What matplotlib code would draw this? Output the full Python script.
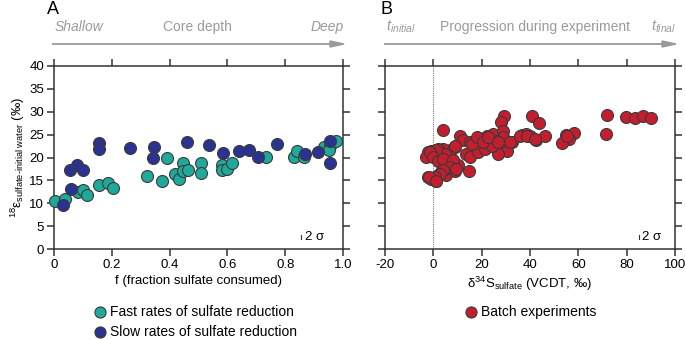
import matplotlib.pyplot as plt
import numpy as np

plt.rcParams['font.family'] = ['Liberation Sans', 'DejaVu Sans']
plt.rcParams['mathtext.fontset'] = 'custom'
plt.rcParams['mathtext.rm'] = 'Liberation Sans'
plt.rcParams['mathtext.it'] = 'Liberation Sans:italic'
plt.rcParams['font.size'] = 9
plt.rcParams['axes.unicode_minus'] = False

# panel A: fraction sulfate consumed vs 18-epsilon
fast_f = [0.003, 0.038, 0.082, 0.10, 0.113, 0.157, 0.186, 0.204, 0.321, 0.374,
          0.391, 0.419, 0.434, 0.445, 0.448, 0.465, 0.509, 0.509, 0.581, 0.581,
          0.598, 0.615, 0.734, 0.829, 0.841, 0.864, 0.933, 0.956, 0.950, 0.977]
fast_eps = [10.5, 11.0, 12.4, 13.0, 11.8, 13.9, 14.4, 13.3, 16.0, 14.8,
            19.9, 16.4, 15.2, 18.8, 17.0, 17.3, 18.7, 16.6, 18.3, 17.3,
            17.5, 18.8, 20.1, 20.1, 21.4, 20.2, 22.4, 22.6, 21.7, 23.6]

slow_f = [0.032, 0.058, 0.055, 0.079, 0.10, 0.154, 0.157, 0.264, 0.345, 0.341,
          0.461, 0.537, 0.585, 0.640, 0.675, 0.705, 0.771, 0.870, 0.915, 0.954,
          0.956]
slow_eps = [9.7, 13.2, 17.2, 18.3, 17.3, 23.1, 21.8, 22.0, 22.2, 19.9,
            23.3, 22.8, 21.0, 21.4, 21.7, 20.1, 23.0, 20.7, 21.1, 23.6,
            18.9]

# panel B: batch experiments
batch_d34s = [29.2, 28.2, 41.0, 43.7, 72.0, 79.6, 83.3, 86.6, 90.2, 3.9,
              71.4, 10.9, 12.3, 18.5, 22.4, 24.8, 28.7, 29.0, 36.8, 38.2,
              40.0, 42.4, 46.2, 54.8, 58.4, 56.0, 53.1, 15.1, 17.2, 20.3,
              22.3, 26.2, 27.3, 32.4, 30.3, 26.9, 8.9, 6.8, 4.0, 1.9,
              -0.8, -2.2, -2.9, 0.6, 2.4, 4.7, 6.1, 8.2, 6.8, 4.7,
              13.4, 15.1, 18.5, 21.3, 24.1, -2.2, -1.1, 1.2, 1.9, 3.3,
              5.4, 7.2, 8.9, 9.6, 14.8, 10.2, 5.7, 8.8, 1.2, -1.5,
              -0.2, 1.9, 4.0, 8.1, 6.8, 4.0, 2.6, 0.5, -1.8, 1.2,
              9.5, 15.8, 17.9, 20.6, 22.7, 26.8, 31.7, 35.8, 38.6, 42.1,
              55.2]
batch_eps = [29.0, 27.8, 29.0, 27.6, 29.3, 28.8, 28.6, 29.1, 28.6, 26.1,
             25.1, 24.8, 23.8, 24.3, 24.6, 25.1, 25.7, 24.4, 24.9, 25.1,
             24.6, 23.9, 24.6, 24.9, 25.3, 24.1, 23.1, 23.3, 22.4, 22.6,
             23.2, 23.7, 23.0, 23.3, 21.5, 20.8, 22.4, 21.7, 21.9, 21.9,
             21.5, 21.2, 20.2, 20.1, 19.7, 19.3, 19.0, 19.0, 20.4, 20.8,
             20.7, 20.1, 21.2, 21.9, 22.6, 15.7, 15.4, 14.9, 16.1, 16.8,
             16.1, 17.7, 17.0, 17.9, 17.0, 18.3, 18.3, 22.6, 21.7, 21.2,
             20.1, 19.3, 19.7, 19.5, 17.9, 17.2, 16.5, 15.7, 15.7, 14.8,
             17.5, 23.0, 24.4, 23.3, 24.4, 23.3, 23.3, 24.8, 24.8, 24.1,
             24.8]

teal = '#1fa99b'
navy = '#2a3292'
red = '#c41e2e'
edge = '#3a3a3a'
axcol = '#333333'
gray = '#9a9a9a'

fig = plt.figure(figsize=(6.85, 3.39), dpi=100)
axA = fig.add_axes([54/685, 1-249/339, 289/685, 183/339])
axB = fig.add_axes([385/685, 1-249/339, 290/685, 183/339])


def style(ax):
    for s in ax.spines.values():
        s.set_color(axcol)
        s.set_linewidth(1.1)
    ax.tick_params(direction='out', length=5, width=1.1, color=axcol,
                   top=True, right=True, labelsize=9.5, pad=2)
    ax.set_ylim(0, 40)
    ax.set_yticks(np.arange(0, 41, 5))


style(axA)
axA.scatter(fast_f, fast_eps, s=74, c=teal, edgecolors=edge, linewidths=0.8,
            zorder=3, clip_on=False)
axA.scatter(slow_f, slow_eps, s=74, c=navy, edgecolors=edge, linewidths=0.8,
            zorder=3, clip_on=False)
axA.set_xlim(0, 1.0)
axA.set_xticks([0, 0.2, 0.4, 0.6, 0.8, 1.0])
axA.set_xticklabels(['0', '0.2', '0.4', '0.6', '0.8', '1.0'])
axA.set_xlabel('f (fraction sulfate consumed)', labelpad=3, fontsize=9.5)
axA.set_ylabel(r'$^{18}$ε$_{\mathrm{sulfate\text{-}initial\ water}}$ (‰)', labelpad=2, fontsize=9.5)
axA.plot([0.855, 0.855], [2.1, 3.1], color=axcol, lw=0.8)
axA.text(0.868, 2.6, '2 σ', va='center', ha='left', fontsize=9.5)

style(axB)
axB.axvline(0, color='#777777', lw=0.8, ls=(0, (1, 1)), zorder=1)
axB.scatter(batch_d34s, batch_eps, s=74, c=red, edgecolors=edge, linewidths=0.8, zorder=3)
axB.set_xlim(-20, 100)
axB.set_xticks(np.arange(-20, 101, 20))
axB.set_yticklabels([])
axB.set_xlabel(r'δ$^{34}$S$_{\mathrm{sulfate}}$ (VCDT, ‰)', labelpad=3, fontsize=9.5)
axB.plot([85, 85], [2.1, 3.1], color=axcol, lw=0.8)
axB.text(86.5, 2.6, '2 σ', va='center', ha='left', fontsize=9.5)

# panel letters
fig.text(47/685, 1-9/339, 'A', fontsize=13, va='center', ha='left')
fig.text(380/685, 1-9/339, 'B', fontsize=13, va='center', ha='left')

# header arrows
ya = 1-44/339
for x0, x1 in [(53, 344), (385, 676)]:
    fig.add_artist(plt.Line2D([x0/685, (x1-10)/685], [ya, ya], color=gray, lw=1.3))
    fig.patches.append(plt.Polygon([[(x1-14)/685, ya+3/339], [x1/685, ya],
                                    [(x1-14)/685, ya-3/339]], closed=True,
                                   color=gray, transform=fig.transFigure, figure=fig))

yt = 1-27/339
fig.text(55/685, yt, 'Shallow', style='italic', color=gray, fontsize=10, va='center', ha='left')
fig.text(197/685, yt, 'Core depth', color=gray, fontsize=10, va='center', ha='center')
fig.text(344/685, yt, 'Deep', style='italic', color=gray, fontsize=10, va='center', ha='right')
fig.text(386/685, yt, r'$t_{initial}$', color=gray, fontsize=10.5, va='center', ha='left')
fig.text(535/685, yt, 'Progression during experiment', color=gray, fontsize=10, va='center', ha='center')
fig.text(676/685, yt, r'$t_{final}$', color=gray, fontsize=10.5, va='center', ha='right')

# legends
leg = [(100, 312, teal, 'Fast rates of sulfate reduction'),
       (100, 332, navy, 'Slow rates of sulfate reduction'),
       (471, 312, red, 'Batch experiments')]
for lx, ly, col, lab in leg:
    fig.add_artist(plt.Line2D([lx/685], [1-ly/339], marker='o', ms=8, color=col,
                              mec=edge, mew=0.8, ls='none'))
    fig.text((lx+10)/685, 1-ly/339, lab, fontsize=10, va='center', ha='left')

fig.savefig('out.png', dpi=100)
